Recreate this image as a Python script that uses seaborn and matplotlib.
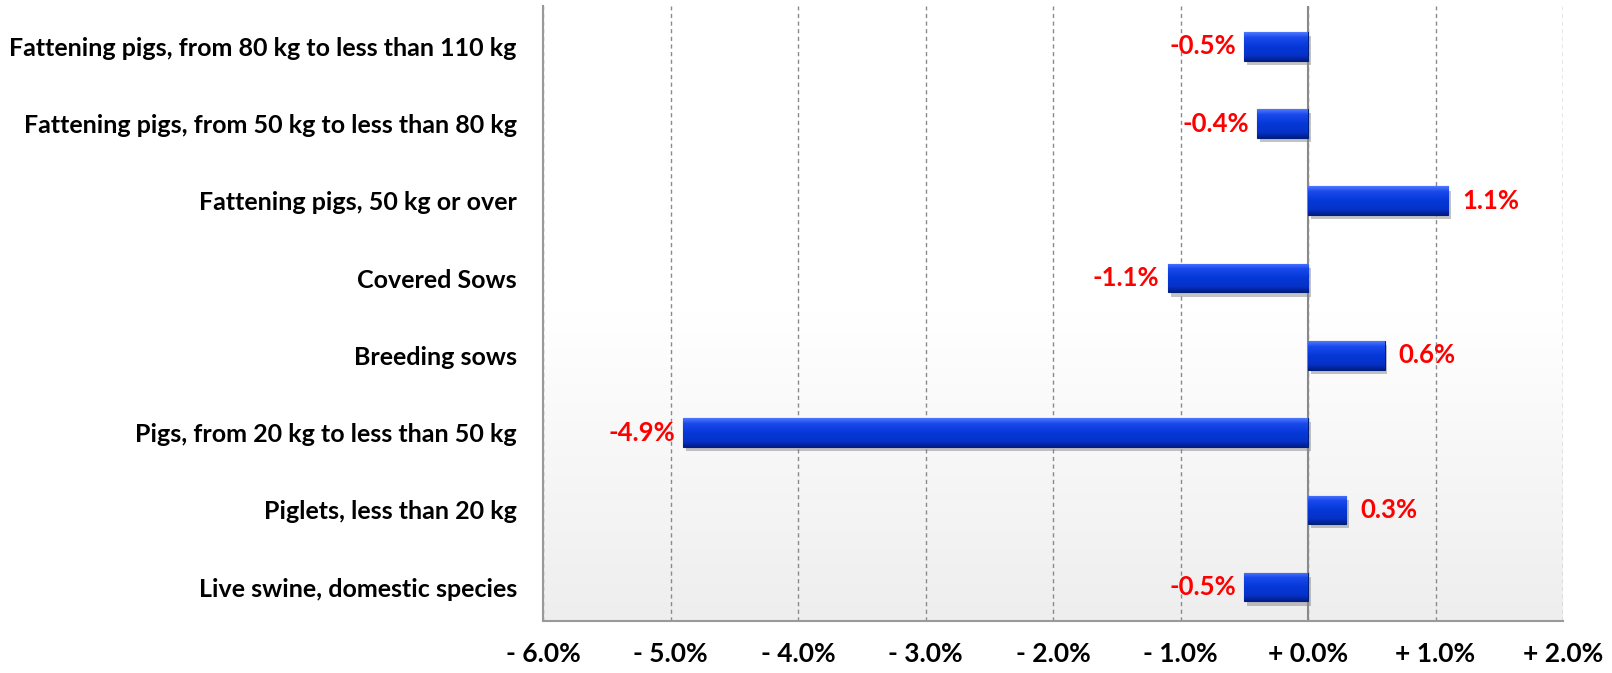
import numpy as np
import pandas as pd
import seaborn as sns
import matplotlib.pyplot as plt
import matplotlib.patheffects as pe
from matplotlib.colors import LinearSegmentedColormap

# data
categories = [
    "Fattening pigs, from 80 kg to less than 110 kg",
    "Fattening pigs, from 50 kg to less than 80 kg",
    "Fattening pigs, 50 kg or over",
    "Covered Sows",
    "Breeding sows",
    "Pigs, from 20 kg to less than 50 kg",
    "Piglets, less than 20 kg",
    "Live swine, domestic species",
]
changes = [-0.5, -0.4, 1.1, -1.1, 0.6, -4.9, 0.3, -0.5]
tick_values = [-6, -5, -4, -3, -2, -1, 0, 1, 2]
tick_labels = ["- 6.0%", "- 5.0%", "- 4.0%", "- 3.0%", "- 2.0%",
               "- 1.0%", "+ 0.0%", "+ 1.0%", "+ 2.0%"]

sns.set_theme(style="white")
plt.rcParams['font.family'] = ['Lato', 'DejaVu Sans']

fig = plt.figure(figsize=(16.12, 6.73), dpi=100)
ax = fig.add_axes([0.337, 0.077, 0.6326, 0.914])

df = pd.DataFrame({"category": categories, "change": changes})
sns.barplot(data=df, x="change", y="category", orient="h", color="#0a36d0",
            width=0.37, saturation=1, ax=ax, zorder=3)

ax.set_xlim(-6, 2)
ylim = (len(categories) - 0.56, -0.52)

# plot area background: white on top fading to light grey at the bottom
bg = LinearSegmentedColormap.from_list("bg", [(0, "#eeeeee"), (0.5, "#ffffff"), (1, "#ffffff")])
ax.imshow(np.linspace(0, 1, 256).reshape(-1, 1), extent=[0, 1, 0, 1], origin="lower",
          transform=ax.transAxes, cmap=bg, aspect="auto", zorder=0)

# bevelled look on the bars
bevel = LinearSegmentedColormap.from_list(
    "bevel", [(0, "#4f78ff"), (0.18, "#1a4aec"), (0.5, "#0638d8"), (0.82, "#0532c6"), (1, "#001c88")])
grad = np.linspace(0, 1, 64).reshape(-1, 1)
for patch in ax.patches:
    x0, y0 = patch.get_x(), patch.get_y()
    w, h = patch.get_width(), patch.get_height()
    patch.set_edgecolor("#00207a")
    patch.set_linewidth(0.8)
    patch.set_path_effects([pe.SimplePatchShadow(offset=(2, -3), shadow_rgbFace="#888888", alpha=0.5),
                            pe.Normal()])
    im = ax.imshow(grad, extent=[x0, x0 + w, y0 + h, y0], origin="upper",
                   cmap=bevel, aspect="auto", zorder=3.5)
    im.set_clip_path(patch)

ax.set_ylim(ylim)
ax.set_xlim(-6, 2)

# grid and zero line
ax.set_xticks(tick_values)
ax.set_xticklabels(tick_labels, fontweight="bold", fontsize=19, color="black")
ax.xaxis.grid(True, linestyle=(0, (3, 2.5)), color="#8a8a8a", linewidth=1, zorder=1)
ax.yaxis.grid(False)
ax.axvline(0, color="#8a8a8a", linewidth=1.5, zorder=2)
ax.tick_params(axis="x", length=0, pad=15)
ax.tick_params(axis="y", length=0, pad=19, labelsize=18)
for lab in ax.get_yticklabels():
    lab.set_fontweight("bold")
    lab.set_color("black")

for side in ["top", "right"]:
    ax.spines[side].set_visible(False)
for side in ["left", "bottom"]:
    ax.spines[side].set_color("#999999")
    ax.spines[side].set_linewidth(1.5)

ax.set_xlabel("")
ax.set_ylabel("")

# value labels
for i, v in enumerate(changes):
    off = 10 if v > 0 else -6
    ax.annotate(f"{v:.1f}%", xy=(v, i), xytext=(off, 0), textcoords="offset points",
                ha="left" if v > 0 else "right", va="center",
                color="#ff0000", fontweight="bold", fontsize=18.5, zorder=5)

fig.savefig("out.png", dpi=100)
